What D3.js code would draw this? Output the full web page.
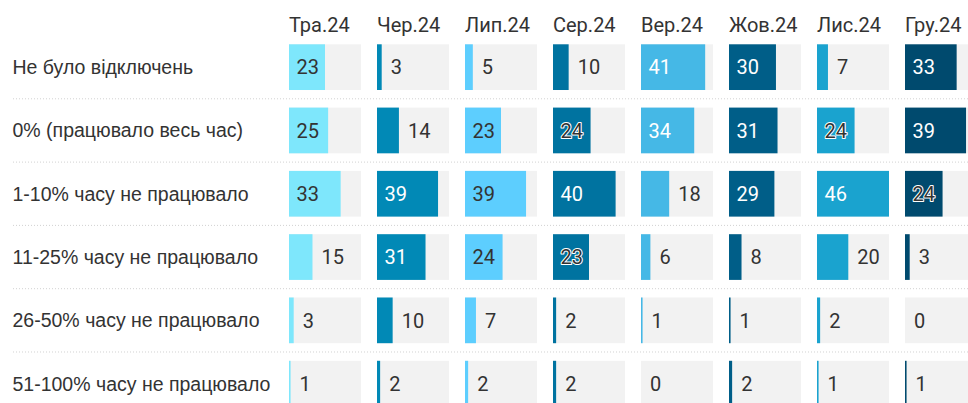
<!DOCTYPE html>
<html>
<head>
<meta charset="utf-8">
<script src="https://cdn.jsdelivr.net/npm/d3@7"></script>
<style>
  body { margin: 0; background: #fff; }
  svg text { font-family: Roboto, "Noto Sans", sans-serif; fill: #333; }
</style>
</head>
<body>
<div id="chart"></div>
<script>
// months (columns) and answers (rows)
const months = ["Тра.24", "Чер.24", "Лип.24", "Сер.24", "Вер.24", "Жов.24", "Лис.24", "Гру.24"];
const categories = [
  "Не було відключень",
  "0% (працювало весь час)",
  "1-10% часу не працювало",
  "11-25% часу не працювало",
  "26-50% часу не працювало",
  "51-100% часу не працювало"
];
// one array per month, values in order of categories
const tra = [23, 25, 33, 15, 3, 1];
const cher = [3, 14, 39, 31, 10, 2];
const lyp = [5, 23, 39, 24, 7, 2];
const ser = [10, 24, 40, 23, 2, 2];
const ver = [41, 34, 18, 6, 1, 0];
const zhov = [30, 31, 29, 8, 1, 2];
const lys = [7, 24, 46, 20, 2, 1];
const hru = [33, 39, 24, 3, 0, 1];
const seriesValues = [tra, cher, lyp, ser, ver, zhov, lys, hru];

const colors = ["#7ee7fc", "#0189b6", "#5dcefe", "#0073a0", "#45b8e6", "#005e88", "#1aa3cf", "#004a6e"];
const darkBars = [false, true, false, true, true, true, true, true];

const width = 968, height = 403;

const svg = d3.select("#chart").append("svg")
  .attr("width", width)
  .attr("height", height);

// columns
const x = d3.scaleBand()
  .domain(months)
  .range([289, 977])
  .paddingInner(16 / 88)
  .paddingOuter(0);

// rows
const y = d3.scaleBand()
  .domain(categories)
  .range([44.3, 406.5])
  .paddingInner(0.278)
  .paddingOuter(0);

const maxVal = d3.max(seriesValues, s => d3.max(s));
const w = d3.scaleLinear().domain([0, maxVal]).range([0, x.bandwidth()]);

// dotted separators between rows
const seps = categories.slice(1).map(c => y(c) - y.step() * y.paddingInner() / 2);
svg.selectAll(".sep")
  .data(seps)
  .enter().append("line")
  .attr("class", "sep")
  .attr("x1", 13).attr("x2", width)
  .attr("y1", d => d).attr("y2", d => d)
  .attr("stroke", "#d2d2d2")
  .attr("stroke-width", 1)
  .attr("stroke-dasharray", "1,2");

// headers
svg.selectAll(".head")
  .data(months)
  .enter().append("text")
  .attr("class", "head")
  .attr("x", d => x(d))
  .attr("y", 31.7)
  .style("font-size", "20px")
  .text(d => d);

// row labels
svg.selectAll(".rowlab")
  .data(categories)
  .enter().append("text")
  .attr("class", "rowlab")
  .attr("x", 12.5)
  .attr("y", d => y(d) + y.bandwidth() / 2)
  .attr("dy", "0.36em")
  .style("font-family", "'Liberation Sans', Arial, sans-serif")
  .style("font-size", "19.5px")
  .text(d => d);

// cells
const cells = [];
months.forEach((m, mi) => {
  categories.forEach((c, ci) => {
    cells.push({ month: m, mi: mi, cat: c, value: seriesValues[mi][ci] });
  });
});

const g = svg.selectAll(".cell")
  .data(cells)
  .enter().append("g")
  .attr("class", "cell")
  .attr("transform", d => "translate(" + x(d.month) + "," + y(d.cat) + ")");

g.append("rect")
  .attr("width", x.bandwidth())
  .attr("height", y.bandwidth())
  .attr("fill", "#f2f2f2");

g.append("rect")
  .attr("width", d => w(d.value))
  .attr("height", y.bandwidth())
  .attr("fill", d => colors[d.mi]);

const halo = d => d.value >= 23 && d.value < 25 && darkBars[d.mi];

g.append("text")
  .attr("x", d => d.value >= 23 ? 7.5 : w(d.value) + 9)
  .attr("y", y.bandwidth() / 2)
  .attr("dy", "0.36em")
  .style("font-size", "20px")
  .style("fill", function (d) {
    if (d.value < 23 || !darkBars[d.mi] || halo(d)) return "#333";
    return "#fff";
  })
  .style("stroke", d => halo(d) ? "#fff" : "none")
  .style("stroke-width", 2)
  .style("stroke-linejoin", "round")
  .style("paint-order", "stroke")
  .text(d => d.value);
</script>
</body>
</html>
